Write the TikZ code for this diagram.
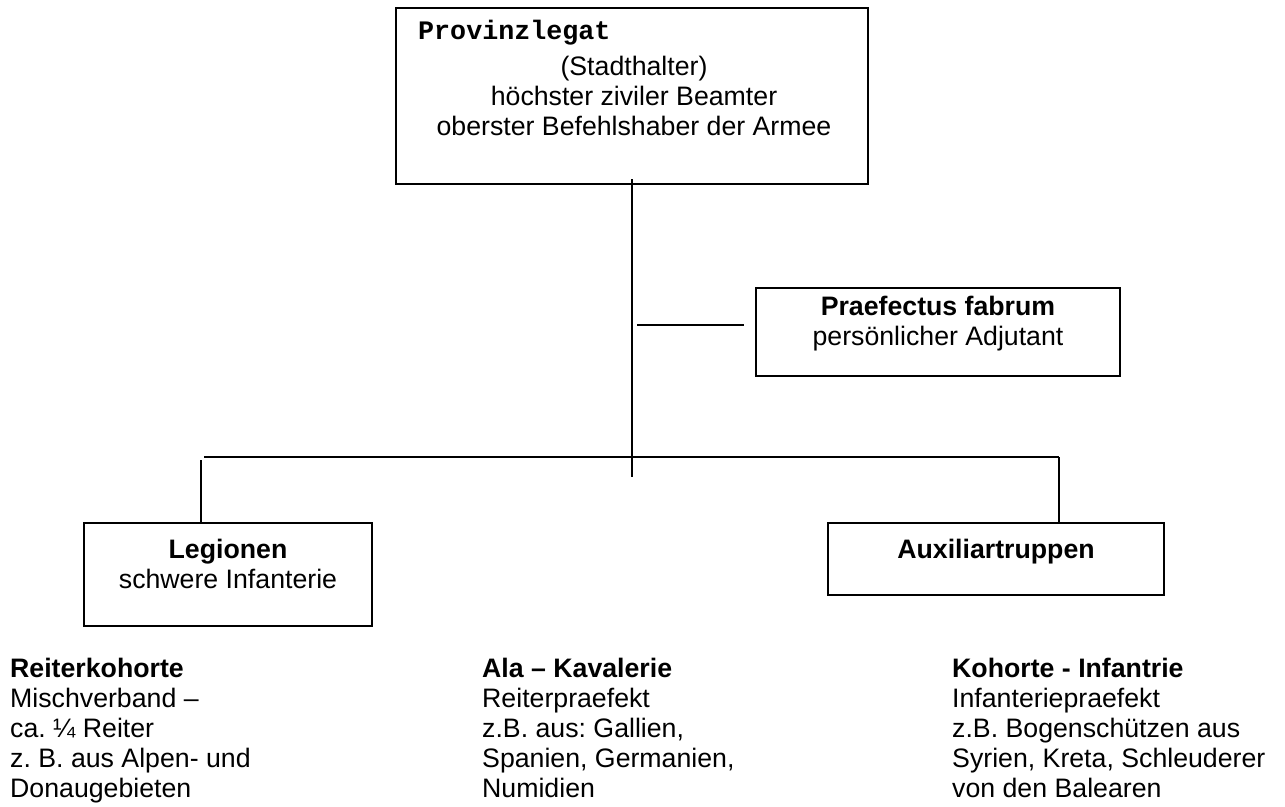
\documentclass[tikz,border=0pt]{standalone}
\usepackage{fontspec}
\setmainfont{Liberation Sans}
\setmonofont{Liberation Mono}
\frenchspacing

\tikzset{
  orgbox/.style={shape=rectangle, draw=black, line width=2.2pt, fill=white, inner sep=0pt},
  txt/.style={font=\fontsize{26.7}{30}\selectfont, inner sep=0pt},
  link/.style={line width=2pt}
}

\begin{document}
\begin{tikzpicture}[x=1pt, y=-1pt]
\useasboundingbox (0,0) rectangle (1285,806);
%boxes
\node[orgbox, minimum width=472pt, minimum height=176pt] (legat) at (632,96) {};
\node[orgbox, minimum width=364pt, minimum height=88pt] (praef) at (938,332) {};
\node[orgbox, minimum width=288pt, minimum height=103pt] (legion) at (228,574.5) {};
\node[orgbox, minimum width=336pt, minimum height=72pt] (aux) at (996,559) {};
%box texts (base = last line)
\node[txt, anchor=base west] (legatname) at (418,39) {\ttfamily\bfseries Provinzlegat};
\node[txt, anchor=base, align=center] (legatinfo) at (634,135) {(Stadthalter)\\höchster ziviler Beamter\\oberster Befehlshaber der Armee};
\node[txt, anchor=base, align=center] (praefinfo) at (938,345) {\textbf{Praefectus fabrum}\\persönlicher Adjutant};
\node[txt, anchor=base, align=center] (legioninfo) at (228,588) {\textbf{Legionen}\\schwere Infanterie};
\node[txt, anchor=base] (auxname) at (996,558) {\textbf{Auxiliartruppen}};
%auxiliary units
\node[txt, anchor=base west, align=left] (reiter) at (10,797) {\textbf{Reiterkohorte}\\Mischverband --\\ca. ¼ Reiter\\z. B. aus Alpen- und\\Donaugebieten};
\node[txt, anchor=base west, align=left] (ala) at (482,797) {\textbf{Ala -- Kavalerie}\\Reiterpraefekt\\z.B. aus: Gallien,\\Spanien, Germanien,\\Numidien};
\node[txt, anchor=base west, align=left] (kohorte) at (952,797) {\textbf{Kohorte - Infantrie}\\Infanteriepraefekt\\z.B. Bogenschützen aus\\Syrien, Kreta, Schleuderer\\von den Balearen};
%connectors
\coordinate (trunkend) at (632,477);
\coordinate (stub) at (637,325);
\coordinate (barleft) at (204,457);
\coordinate (barright) at (1059,457);
\coordinate (legiondrop) at (201,460);
\draw[link] ([yshift=6pt]legat.south) -- (trunkend);
\draw[link, shorten >=11pt] (stub) -- (stub -| praef.west);
\draw[link] (barleft) -- (barright);
\draw[link] (legiondrop) -- (legiondrop |- legion.north);
\draw[link] (barright) -- (barright |- aux.north);
\end{tikzpicture}
\end{document}
